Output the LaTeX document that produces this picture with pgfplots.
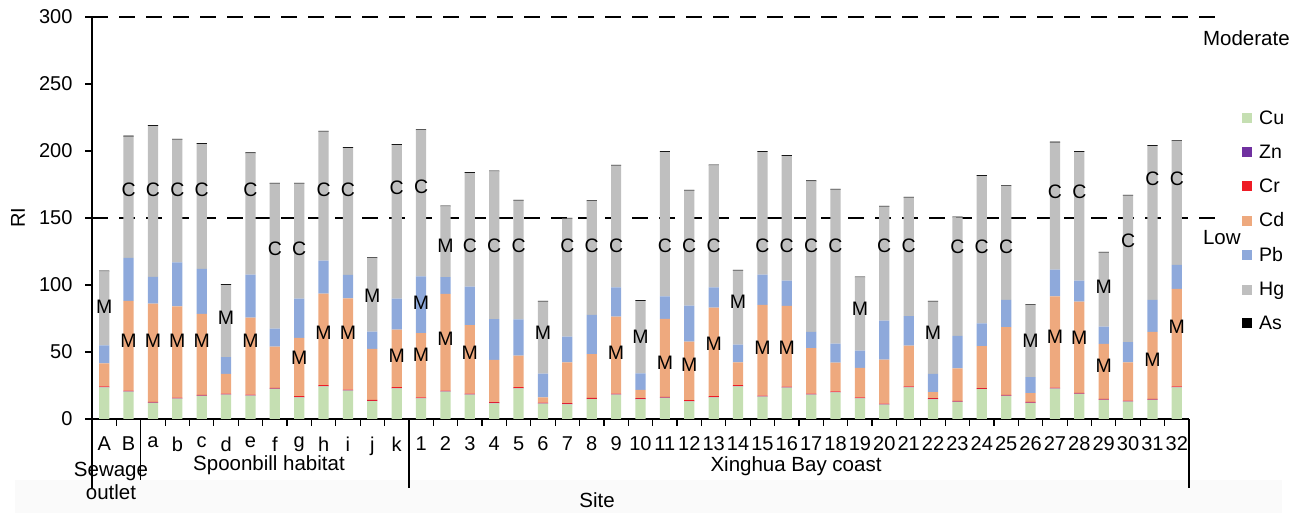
\documentclass[border=0pt]{standalone}
\usepackage{fontspec}
\setmainfont{Liberation Sans}
\usepackage{pgfplots}
\usepackage{pgfplotstable}
\pgfplotsset{compat=1.18}

\definecolor{cCu}{HTML}{C5DFB2}
\definecolor{cZn}{HTML}{7030A0}
\definecolor{cCr}{HTML}{EE1C25}
\definecolor{cCd}{HTML}{EEA97E}
\definecolor{cPb}{HTML}{8EA9DB}
\definecolor{cHg}{HTML}{BFBFBF}
\definecolor{cAs}{HTML}{000000}

\pgfplotsset{sq/.style={legend image code/.code={\fill[##1] (0pt,-5pt) rectangle (10pt,5pt); \path (15pt,0pt);}}}

\pgfplotstableread{
x Cu Zn Cr Cd Pb Hg As
0 23.6 0.2 0.6 17.2 13.4 55.2 0.6
1 20.4 0.2 0.6 66.9 32.1 90.6 0.6
2 12.0 0.2 0.6 73.3 19.9 112.7 0.6
3 15.2 0.2 0.6 68.1 32.7 91.7 0.6
4 17.2 0.2 0.6 60.4 33.6 93.3 0.6
5 18.2 0.2 0.6 14.6 12.5 53.9 0.6
6 17.4 0.2 0.6 57.5 32.1 90.5 0.6
7 22.4 0.2 0.6 30.8 13.5 108.2 0.6
8 16.2 0.2 0.6 43.5 29.4 85.8 0.6
9 24.4 0.2 0.6 68.4 24.6 96.3 0.6
10 21.2 0.2 0.6 68.1 17.4 94.8 0.6
11 13.4 0.2 0.6 38.1 12.9 54.9 0.6
12 22.9 0.2 0.6 43.0 23.2 114.6 0.6
13 15.4 0.2 0.6 47.8 42.5 109.0 0.6
14 20.4 0.2 0.6 72.2 12.4 52.9 0.6
15 18.2 0.2 0.6 51.0 28.8 84.8 0.6
16 11.7 0.3 0.6 31.6 30.3 110.2 0.6
17 22.9 0.2 0.6 23.6 27.1 88.6 0.6
18 11.5 0.2 0.6 3.9 17.7 53.6 0.6
19 11.0 0.2 0.6 30.5 19.2 88.0 0.6
20 14.9 0.2 0.6 32.8 29.2 84.8 0.6
21 18.2 0.2 0.6 57.4 21.9 90.8 0.6
22 14.7 0.3 0.6 6.2 12.2 54.1 0.6
23 15.7 0.2 0.6 58.2 16.9 107.7 0.6
24 13.2 0.2 0.6 43.8 26.8 85.8 0.6
25 16.2 0.2 0.6 66.1 15.2 91.0 0.6
26 24.4 0.2 0.6 17.1 13.2 55.2 0.6
27 16.7 0.2 0.6 67.6 22.7 91.5 0.6
28 23.4 0.2 0.6 60.2 18.9 93.0 0.6
29 18.2 0.2 0.6 33.8 12.2 112.4 0.6
30 19.9 0.2 0.6 21.4 14.2 114.9 0.6
31 15.4 0.2 0.6 21.9 12.9 54.7 0.6
32 10.7 0.2 0.6 32.8 29.1 85.1 0.6
33 23.6 0.2 0.6 30.4 21.9 88.5 0.6
34 14.7 0.3 0.6 4.4 13.7 53.9 0.6
35 12.7 0.2 0.6 24.3 24.2 88.5 0.6
36 22.2 0.2 0.6 31.3 17.1 110.0 0.6
37 17.2 0.2 0.6 50.5 20.4 84.8 0.6
38 11.9 0.3 0.6 6.5 11.9 53.7 0.6
39 22.7 0.2 0.6 68.1 19.9 94.8 0.6
40 18.7 0.2 0.6 68.1 15.7 96.0 0.6
41 14.2 0.2 0.6 41.0 13.0 55.1 0.6
42 12.9 0.2 0.6 28.6 15.0 109.4 0.6
43 14.2 0.2 0.6 50.0 23.9 114.9 0.6
44 23.6 0.2 0.6 72.7 17.9 92.3 0.6
}\ridata

\pgfplotstableread{
x y L
0 83.9 M
1 171 C
1 58.5 M
2 171 C
2 58.5 M
3 171 C
3 58.5 M
4 171 C
4 58.5 M
5 75.2 M
6 171 C
6 58.5 M
7 126.7 C
8 126.7 C
8 46 M
9 171 C
9 64.5 M
10 171 C
10 64.5 M
11 92.1 M
12 172.5 C
12 47.3 M
13 173 C
13 86.6 M
13 47.8 M
14 129 M
14 59.7 M
15 129 C
15 49.3 M
16 129 C
17 129 C
18 64 M
19 129 C
20 129 C
21 129 C
21 49.3 M
22 61 M
23 129 C
23 41.8 M
24 129 C
24 40.6 M
25 129 C
25 56 M
26 87.6 M
27 129 C
27 52.8 M
28 129 C
28 53.5 M
29 129 C
30 129 C
31 82 M
32 129 C
33 129 C
34 64.7 M
35 128.7 C
36 128.7 C
37 128.7 C
38 58.5 M
39 169.8 C
39 61 M
40 169.8 C
40 60.5 M
41 98.3 M
41 39.8 M
42 132.7 C
43 179 C
43 44 M
44 179 C
44 68.5 M
}\labdata

\begin{document}
\begin{tikzpicture}[x=1pt,y=1pt]
\fill[gray!4] (15,0) rectangle (1282,33);
\begin{axis}[
  at={(92pt,94pt)}, anchor=south west,
  scale only axis, width=1097pt, height=402pt,
  ybar stacked, bar width=0.42,
  xmin=-0.5, xmax=44.5, ymin=0, ymax=300,
  clip=false,
  axis lines=left,
  axis line style={-, line width=1.2pt},
  xtick={0,...,44},
  xticklabels={A,B,a,b,c,d,e,f,g,h,i,j,k,1,2,3,4,5,6,7,8,9,10,11,12,13,14,15,16,17,18,19,20,21,22,23,24,25,26,27,28,29,30,31,32},
  major x tick style={draw=none},
  minor xtick={0.5,1.5,...,43.5},
  ytick={0,50,...,300},
  tick align=outside, tick pos=left,
  major tick length=7pt, minor tick length=7pt,
  every tick/.style={black, line width=1.2pt},
  /pgf/number format/assume math mode=true,
  ticklabel style={font=\fontsize{20}{24}\selectfont},
  xticklabel style={yshift=-7pt},
  yticklabel style={xshift=-9pt},
  ylabel={RI},
  ylabel style={at={(axis description cs:-0.0675,0.5)}, anchor=center, font=\fontsize{20}{24}\selectfont},
  legend style={at={(axis description cs:1.0483,0.7725)}, anchor=north west, draw=none, fill=none,
    inner sep=0pt, row sep=15pt, font=\fontsize{19.5}{22}\selectfont, cells={anchor=west}},
  legend cell align=left,
]
\addplot[fill=cCu, draw=none, sq] table[x=x,y=Cu]{\ridata};
\addplot[fill=cZn, draw=none, sq] table[x=x,y=Zn]{\ridata};
\addplot[fill=cCr, draw=none, sq] table[x=x,y=Cr]{\ridata};
\addplot[fill=cCd, draw=none, sq] table[x=x,y=Cd]{\ridata};
\addplot[fill=cPb, draw=none, sq] table[x=x,y=Pb]{\ridata};
\addplot[fill=cHg, draw=none, sq] table[x=x,y=Hg]{\ridata};
\addplot[fill=cAs, draw=none, sq] table[x=x,y=As]{\ridata};
\legend{Cu,Zn,Cr,Cd,Pb,Hg,As}
\draw[line width=1.2pt, dash pattern=on 16pt off 11pt] (axis cs:-0.5,150) -- (axis cs:45.85,150);
\draw[line width=1.2pt, dash pattern=on 16pt off 11pt] (axis cs:-0.5,300) -- (axis cs:45.85,300);
\node[anchor=west, font=\fontsize{20.5}{24}\selectfont, inner sep=0pt] at (axis cs:45.07,284.3) {Moderate};
\node[anchor=west, font=\fontsize{20.5}{24}\selectfont, inner sep=0pt] at (axis cs:45.07,135.1) {Low};
\draw[line width=1.2pt] (axis cs:-0.5,0) -- ([yshift=-69pt]axis cs:-0.5,0);
\draw[line width=1.2pt] (axis cs:1.5,0) -- ([yshift=-61pt]axis cs:1.5,0);
\draw[line width=1.2pt] (axis cs:12.5,0) -- ([yshift=-69pt]axis cs:12.5,0);
\draw[line width=1.2pt] (axis cs:44.5,0) -- ([yshift=-69pt]axis cs:44.5,0);
\node[font=\fontsize{20.5}{24}\selectfont, inner sep=0pt] at ([yshift=-52pt]axis cs:0.28,0) {Sewage};
\node[font=\fontsize{20.5}{24}\selectfont, inner sep=0pt] at ([yshift=-73pt]axis cs:0.28,0) {outlet};
\node[font=\fontsize{20.5}{24}\selectfont, inner sep=0pt] at ([yshift=-46pt]axis cs:6.76,0) {Spoonbill habitat};
\node[font=\fontsize{20.5}{24}\selectfont, inner sep=0pt] at ([yshift=-47pt]axis cs:28.38,0) {Xinghua Bay coast};
\node[font=\fontsize{20.5}{24}\selectfont, inner sep=0pt] at ([yshift=-81pt]axis cs:20.22,0) {Site};
\end{axis}
\begin{axis}[
  at={(92pt,94pt)}, anchor=south west,
  scale only axis, width=1097pt, height=402pt,
  xmin=-0.5, xmax=44.5, ymin=0, ymax=300,
  hide axis, clip=false,
]
\addplot[only marks, mark=*, mark size=0pt, mark options={draw=none, fill=none},
  nodes near coords, point meta=explicit symbolic,
  every node near coord/.append style={anchor=center, inner sep=0pt, font=\fontsize{19.5}{22}\selectfont}]
  table[x=x, y=y, meta=L]{\labdata};
\end{axis}
\pgfresetboundingbox
\path (0,0) rectangle (1299,513);
\end{tikzpicture}
\end{document}
